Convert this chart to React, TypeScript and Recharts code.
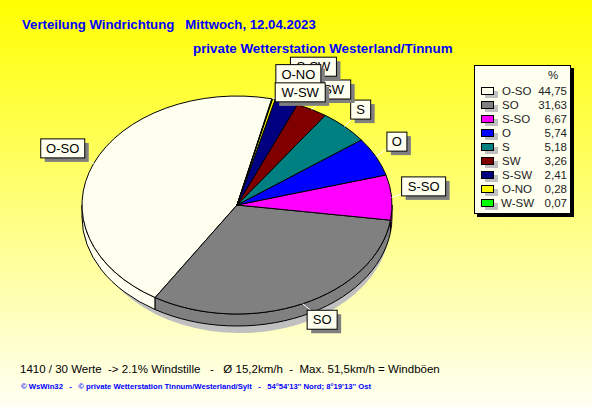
import React from "react";
import { PieChart, Pie, Legend } from "recharts";

const directions = ["O-SO", "SO", "S-SO", "O", "S", "SW", "S-SW", "O-NO", "W-SW"];
const shares = [44.75, 31.63, 6.67, 5.74, 5.18, 3.26, 2.41, 0.28, 0.07];
const shareLabels = ["44,75", "31,63", "6,67", "5,74", "5,18", "3,26", "2,41", "0,28", "0,07"];
const colors = ["#FFFFF0", "#808080", "#FF00FF", "#0000FF", "#008080", "#800000", "#000080", "#FFFF00", "#00FF00"];

// label boxes: offset of the box centre from the rim, and box width
const boxOffsetX = [-31, 19.5, 32, 21, 16, 22, 27, 24.5, 28];
const boxOffsetY = [-15, 16, -11, -15, -17, -20, -35, -25, -6.5];
const boxWidths = [44, 30, 44, 20, 20, 34, 46, 45, 50];

const tableData = directions.map((name, i) => ({ name, value: shares[i], fill: colors[i] }));

const CX = 237;
const CY = 205;
const RX = 155;
const RY = 109;
const DEPTH = 12;
const FONT = "'Liberation Sans', Arial, sans-serif";

const pt = (cx, cy, rx, ry, deg) => {
  const a = (deg * Math.PI) / 180;
  return [cx + rx * Math.cos(a), cy - ry * Math.sin(a)];
};

// top face of a slice, squashed to an ellipse
const TopSlice = (props) => {
  const { startAngle, endAngle, fill } = props;
  const [x1, y1] = pt(CX, CY, RX, RY, startAngle);
  const [x2, y2] = pt(CX, CY, RX, RY, endAngle);
  const large = Math.abs(endAngle - startAngle) > 180 ? 1 : 0;
  const d = `M${CX},${CY} L${x1},${y1} A${RX},${RY} 0 ${large} 0 ${x2},${y2} Z`;
  return <path d={d} fill={fill} stroke="#000" strokeWidth={1} />;
};

// side wall, only for the part of the slice on the front half
const WallSlice = (props) => {
  const { startAngle, endAngle, fill } = props;
  const parts = [];
  [[180, 360], [540, 720]].forEach(([lo, hi], k) => {
    const a1 = Math.max(startAngle, lo);
    const a2 = Math.min(endAngle, hi);
    if (a2 <= a1) return;
    const [x1, y1] = pt(CX, CY, RX, RY, a1);
    const [x2, y2] = pt(CX, CY, RX, RY, a2);
    const d = `M${x1},${y1} A${RX},${RY} 0 0 0 ${x2},${y2} L${x2},${y2 + DEPTH} A${RX},${RY} 0 0 1 ${x1},${y1 + DEPTH} Z`;
    parts.push(<path key={k} d={d} fill={fill} stroke="#000" strokeWidth={1} />);
  });
  return <g>{parts}</g>;
};

const ShadowSlice = (props) => {
  const { startAngle, endAngle } = props;
  const sx = CX + 3;
  const sy = CY + 19;
  const [x1, y1] = pt(sx, sy, RX - 5, RY, startAngle);
  const [x2, y2] = pt(sx, sy, RX - 5, RY, endAngle);
  return <path d={`M${x1},${y1} A${RX - 5},${RY} 0 0 0 ${x2},${y2} Z`} fill="#C0C0C0" />;
};

const BoxLabel = (props) => {
  const { midAngle, index, name } = props;
  const [rimX, rimY] = pt(CX, CY, RX, RY, midAngle);
  const bx = rimX + boxOffsetX[index];
  const by = rimY + boxOffsetY[index];
  const w = boxWidths[index];
  const h = 19;
  return (
    <g>
      <line x1={rimX} y1={rimY} x2={bx} y2={by} stroke="#fff" strokeWidth={1} />
      <rect x={bx - w / 2 + 4} y={by - h / 2 + 4} width={w} height={h} fill="#808080" />
      <rect x={bx - w / 2} y={by - h / 2} width={w} height={h} fill="#FFFFF0" stroke="#000" strokeWidth={1} />
      <text x={bx} y={by + 4.5} textAnchor="middle" fontFamily={FONT} fontSize={13} fill="#000">
        {name}
      </text>
    </g>
  );
};

const WindLegend = () => (
  <div style={{ position: "relative", width: 97, height: 149, background: "#FFFFF0", border: "1px solid #000", boxShadow: "3px 3px 0 #000", boxSizing: "border-box", fontFamily: FONT, fontSize: 11.5, color: "#222" }}>
    <div style={{ position: "absolute", left: 73, top: 3 }}>%</div>
    {directions.map((name, i) => (
      <div key={name} style={{ position: "absolute", left: 0, top: 18 + i * 14, width: 95, height: 14, lineHeight: "14px" }}>
        <div style={{ position: "absolute", left: 10, top: 7, width: 13, height: 7, background: "#C0C0C0" }} />
        <div style={{ position: "absolute", left: 6, top: 3, width: 11, height: 6, background: colors[i], border: "1px solid #000" }} />
        <div style={{ position: "absolute", left: name === "W-SW" ? 26 : 27, top: 0 }}>{name}</div>
        <div style={{ position: "absolute", right: 3, top: 0 }}>{shareLabels[i]}</div>
      </div>
    ))}
  </div>
);

export default function App() {
  return (
    <div style={{ position: "absolute", left: 0, top: 0, width: 592, height: 407, overflow: "hidden", background: "linear-gradient(#FFFF00 0%, #FFFFF4 100%)", fontFamily: FONT }}>
      <div style={{ position: "absolute", left: 22, top: 17, fontSize: 13.2, fontWeight: "bold", color: "#0000FF", whiteSpace: "pre" }}>
        Verteilung Windrichtung   Mittwoch, 12.04.2023
      </div>
      <div style={{ position: "absolute", left: 193, top: 41, fontSize: 13.35, fontWeight: "bold", color: "#0000FF", whiteSpace: "pre" }}>
        private Wetterstation Westerland/Tinnum
      </div>
      <PieChart width={592} height={407} style={{ position: "absolute", left: 0, top: 0 }}>
        <Pie data={[{ name: "all", value: 1 }]} dataKey="value" cx={CX} cy={CY} outerRadius={RX} startAngle={180} endAngle={360} shape={ShadowSlice} stroke="none" isAnimationActive={false} />
        <Pie data={tableData} dataKey="value" cx={CX} cy={CY} outerRadius={RX} startAngle={77} endAngle={437} shape={WallSlice} isAnimationActive={false} />
        <Pie data={tableData} dataKey="value" cx={CX} cy={CY} outerRadius={RX} startAngle={77} endAngle={437} shape={TopSlice} label={BoxLabel} labelLine={false} isAnimationActive={false} />
        <Legend content={<WindLegend />} layout="vertical" wrapperStyle={{ position: "absolute", left: 474, top: 65, width: 97 }} />
      </PieChart>
      <div style={{ position: "absolute", left: 20, top: 363, fontSize: 11.5, color: "#000", whiteSpace: "pre" }}>
        1410 / 30 Werte  -&gt; 2.1% Windstille   -   Ø 15,2km/h  -  Max. 51,5km/h = Windböen
      </div>
      <div style={{ position: "absolute", left: 21, top: 382, fontSize: 7.7, fontWeight: "bold", color: "#0000FF", whiteSpace: "pre" }}>
        © WsWin32   -   © private Wetterstation Tinnum/Westerland/Sylt   -   54°54'13'' Nord; 8°19'13'' Ost
      </div>
    </div>
  );
}
